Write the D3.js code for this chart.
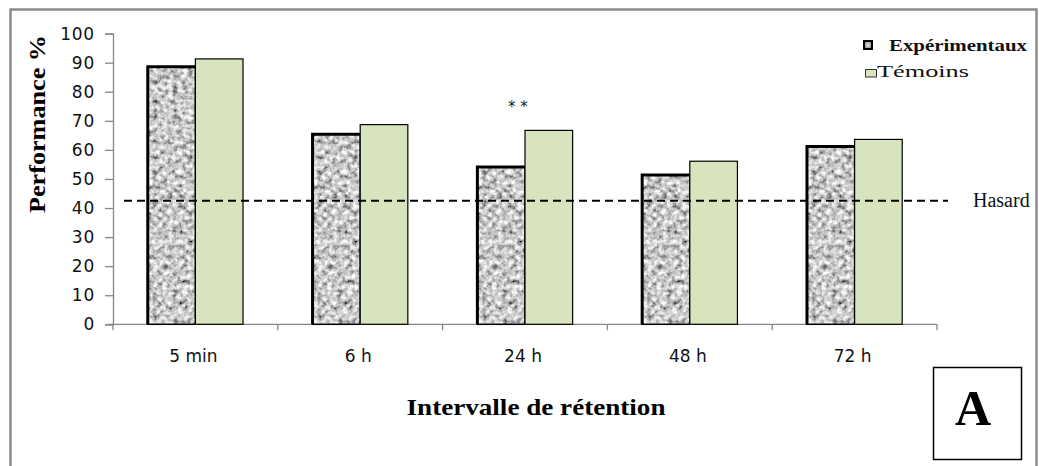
<!DOCTYPE html>
<html>
<head>
<meta charset="utf-8">
<script src="https://cdn.jsdelivr.net/npm/d3@7"></script>
<style>
  html, body { margin: 0; padding: 0; background: #fff; }
  svg { display: block; }
</style>
</head>
<body>
<script>
// Retention performance by interval (two groups)
const categories = ["5 min", "6 h", "24 h", "48 h", "72 h"];
const seriesNames = ["Expérimentaux", "Témoins"];
const experimentaux = [88.6, 65.4, 54.1, 51.4, 61.2];
const temoins = [91.3, 68.7, 66.7, 56.1, 63.6];
const yTicks = [0, 10, 20, 30, 40, 50, 60, 70, 80, 90, 100];
const hasard = 42.5;
const significance = [null, null, "**", null, null];

const W = 1039, H = 466;
const svg = d3.select("body").append("svg").attr("width", W).attr("height", H);

// granite-like texture for the experimental bars
const defs = svg.append("defs");
const f = defs.append("filter").attr("id", "granite")
  .attr("x", 0).attr("y", 0).attr("width", 1).attr("height", 1)
  .attr("filterUnits", "objectBoundingBox");
f.append("feTurbulence").attr("type", "fractalNoise")
  .attr("baseFrequency", 0.2).attr("numOctaves", 3).attr("seed", 11).attr("result", "noise");
f.append("feColorMatrix").attr("in", "noise").attr("type", "matrix")
  .attr("values", "1.55 0 0 0 -0.19  1.55 0 0 0 -0.19  1.55 0 0 0 -0.19  0 0 0 0 1")
  .attr("result", "gray");
f.append("feGaussianBlur").attr("in", "gray").attr("stdDeviation", 0.5).attr("result", "soft");
f.append("feComposite").attr("in", "soft").attr("in2", "SourceGraphic").attr("operator", "in");

const lg = defs.append("radialGradient").attr("id", "legGray");
lg.append("stop").attr("offset", "0%").attr("stop-color", "#e8e8e8");
lg.append("stop").attr("offset", "100%").attr("stop-color", "#8a8a8a");

// outer frame
svg.append("rect").attr("x", 10.5).attr("y", 9.5).attr("width", 1026).attr("height", 480)
  .attr("fill", "none").attr("stroke", "#8c8c8c").attr("stroke-width", 2.5);

const x0 = 113, x1 = 937, yBase = 324.3, yTop = 33.6;
const x = d3.scaleBand().domain(categories).range([x0, x1]).padding(0);
const xs = d3.scaleBand().domain(seriesNames).range([0, x.bandwidth()]).paddingOuter(0.73).paddingInner(0);
const y = d3.scaleLinear().domain([0, 100]).range([yBase, yTop]);

const axisColor = "#868686";

// Y axis
const yAxis = svg.append("g").attr("transform", `translate(${x0},0)`)
  .call(d3.axisLeft(y).tickValues(yTicks).tickSize(8).tickPadding(10).tickFormat(d3.format("d")));
yAxis.select(".domain").attr("stroke", axisColor).attr("stroke-width", 1.3);
yAxis.selectAll(".tick line").attr("stroke", axisColor).attr("stroke-width", 1.3);
yAxis.selectAll(".tick text").attr("fill", "#111")
  .style("font-family", "DejaVu Sans, sans-serif").style("font-size", "17px")
  .style("letter-spacing", "0.8px");

// X axis
const xAxis = svg.append("g").attr("transform", `translate(0,${yBase})`);
xAxis.append("line").attr("x1", x0 - 5).attr("x2", x1).attr("y1", 0).attr("y2", 0)
  .attr("stroke", axisColor).attr("stroke-width", 1.3);
const bounds = categories.map(c => x(c)).concat([x1]);
xAxis.selectAll("line.tk").data(bounds).join("line").attr("class", "tk")
  .attr("x1", d => d).attr("x2", d => d).attr("y1", 0).attr("y2", 6)
  .attr("stroke", axisColor).attr("stroke-width", 1.3);
xAxis.selectAll("text").data(categories).join("text")
  .attr("x", d => x(d) + x.bandwidth() / 2 - 2).attr("y", 38)
  .attr("text-anchor", "middle").attr("fill", "#111")
  .style("font-family", "DejaVu Sans, sans-serif").style("font-size", "17px")
  .text(d => d);

// bars
const groups = svg.append("g").selectAll("g").data(categories).join("g")
  .attr("transform", d => `translate(${x(d)},0)`);

groups.append("rect")
  .attr("x", xs("Expérimentaux")).attr("width", xs.bandwidth())
  .attr("y", (d, i) => y(experimentaux[i])).attr("height", (d, i) => yBase - y(experimentaux[i]))
  .attr("fill", "#999").attr("filter", "url(#granite)");
groups.append("rect")
  .attr("x", xs("Expérimentaux")).attr("width", xs.bandwidth())
  .attr("y", (d, i) => y(experimentaux[i])).attr("height", (d, i) => yBase - y(experimentaux[i]))
  .attr("fill", "none").attr("stroke", "#000").attr("stroke-width", 1.5);
// heavier left and top edges
groups.append("path")
  .attr("d", (d, i) => {
    const l = xs("Expérimentaux"), t = y(experimentaux[i]);
    return `M${l},${yBase}V${t}H${l + xs.bandwidth()}`;
  })
  .attr("fill", "none").attr("stroke", "#000").attr("stroke-width", 3);

groups.append("rect")
  .attr("x", xs("Témoins")).attr("width", xs.bandwidth())
  .attr("y", (d, i) => y(temoins[i])).attr("height", (d, i) => yBase - y(temoins[i]))
  .attr("fill", "#d7e4bd").attr("stroke", "#000").attr("stroke-width", 1.2);

// significance marks
groups.append("text")
  .attr("x", x.bandwidth() / 2 - 7).attr("y", 112)
  .attr("text-anchor", "middle").attr("fill", "#222")
  .style("font-family", "DejaVu Sans, sans-serif").style("font-size", "15px")
  .text((d, i) => significance[i] ? significance[i].split("").join(" ") : "");

// chance level line
svg.append("line").attr("x1", 124).attr("x2", 948)
  .attr("y1", y(hasard)).attr("y2", y(hasard))
  .attr("stroke", "#000").attr("stroke-width", 1.8).attr("stroke-dasharray", "8,5");
svg.append("text").attr("x", 973).attr("y", y(hasard) + 6)
  .style("font-family", "Liberation Serif, Times New Roman, serif").style("font-size", "20px")
  .attr("fill", "#111").text("Hasard");

// axis titles
svg.append("text").attr("transform", `translate(45,124) rotate(-90)`)
  .attr("text-anchor", "middle")
  .style("font-family", "Liberation Serif, Times New Roman, serif").style("font-size", "24px")
  .style("font-weight", "bold").attr("fill", "#000")
  .attr("textLength", 178).attr("lengthAdjust", "spacingAndGlyphs")
  .text("Performance %");
svg.append("text").attr("x", 536).attr("y", 415)
  .attr("text-anchor", "middle")
  .style("font-family", "Liberation Serif, Times New Roman, serif").style("font-size", "24px")
  .style("font-weight", "bold").attr("fill", "#000")
  .attr("textLength", 259).attr("lengthAdjust", "spacingAndGlyphs")
  .text("Intervalle de rétention");

// legend
const legend = svg.append("g");
legend.append("rect").attr("x", 864).attr("y", 41).attr("width", 8).attr("height", 8)
  .attr("fill", "url(#legGray)").attr("stroke", "#000").attr("stroke-width", 2);
legend.append("text").attr("x", 889).attr("y", 51)
  .style("font-family", "Liberation Serif, Times New Roman, serif").style("font-size", "16px")
  .style("font-weight", "bold").attr("fill", "#111")
  .attr("textLength", 138).attr("lengthAdjust", "spacingAndGlyphs")
  .text(seriesNames[0]);
legend.append("rect").attr("x", 865.5).attr("y", 69.5).attr("width", 11).attr("height", 7.5)
  .attr("fill", "#d7e4bd").attr("stroke", "#333").attr("stroke-width", 1);
legend.append("text").attr("x", 877).attr("y", 77)
  .style("font-family", "Liberation Serif, Times New Roman, serif").style("font-size", "17px")
  .attr("fill", "#111")
  .attr("textLength", 92).attr("lengthAdjust", "spacingAndGlyphs")
  .text(seriesNames[1]);

// panel letter
svg.append("rect").attr("x", 933.5).attr("y", 367.5).attr("width", 88).attr("height", 92)
  .attr("fill", "#fff").attr("stroke", "#000").attr("stroke-width", 1.5);
svg.append("text").attr("x", 973).attr("y", 425).attr("text-anchor", "middle")
  .style("font-family", "Liberation Serif, Times New Roman, serif").style("font-size", "50px")
  .style("font-weight", "bold").attr("fill", "#000").text("A");
</script>
</body>
</html>
